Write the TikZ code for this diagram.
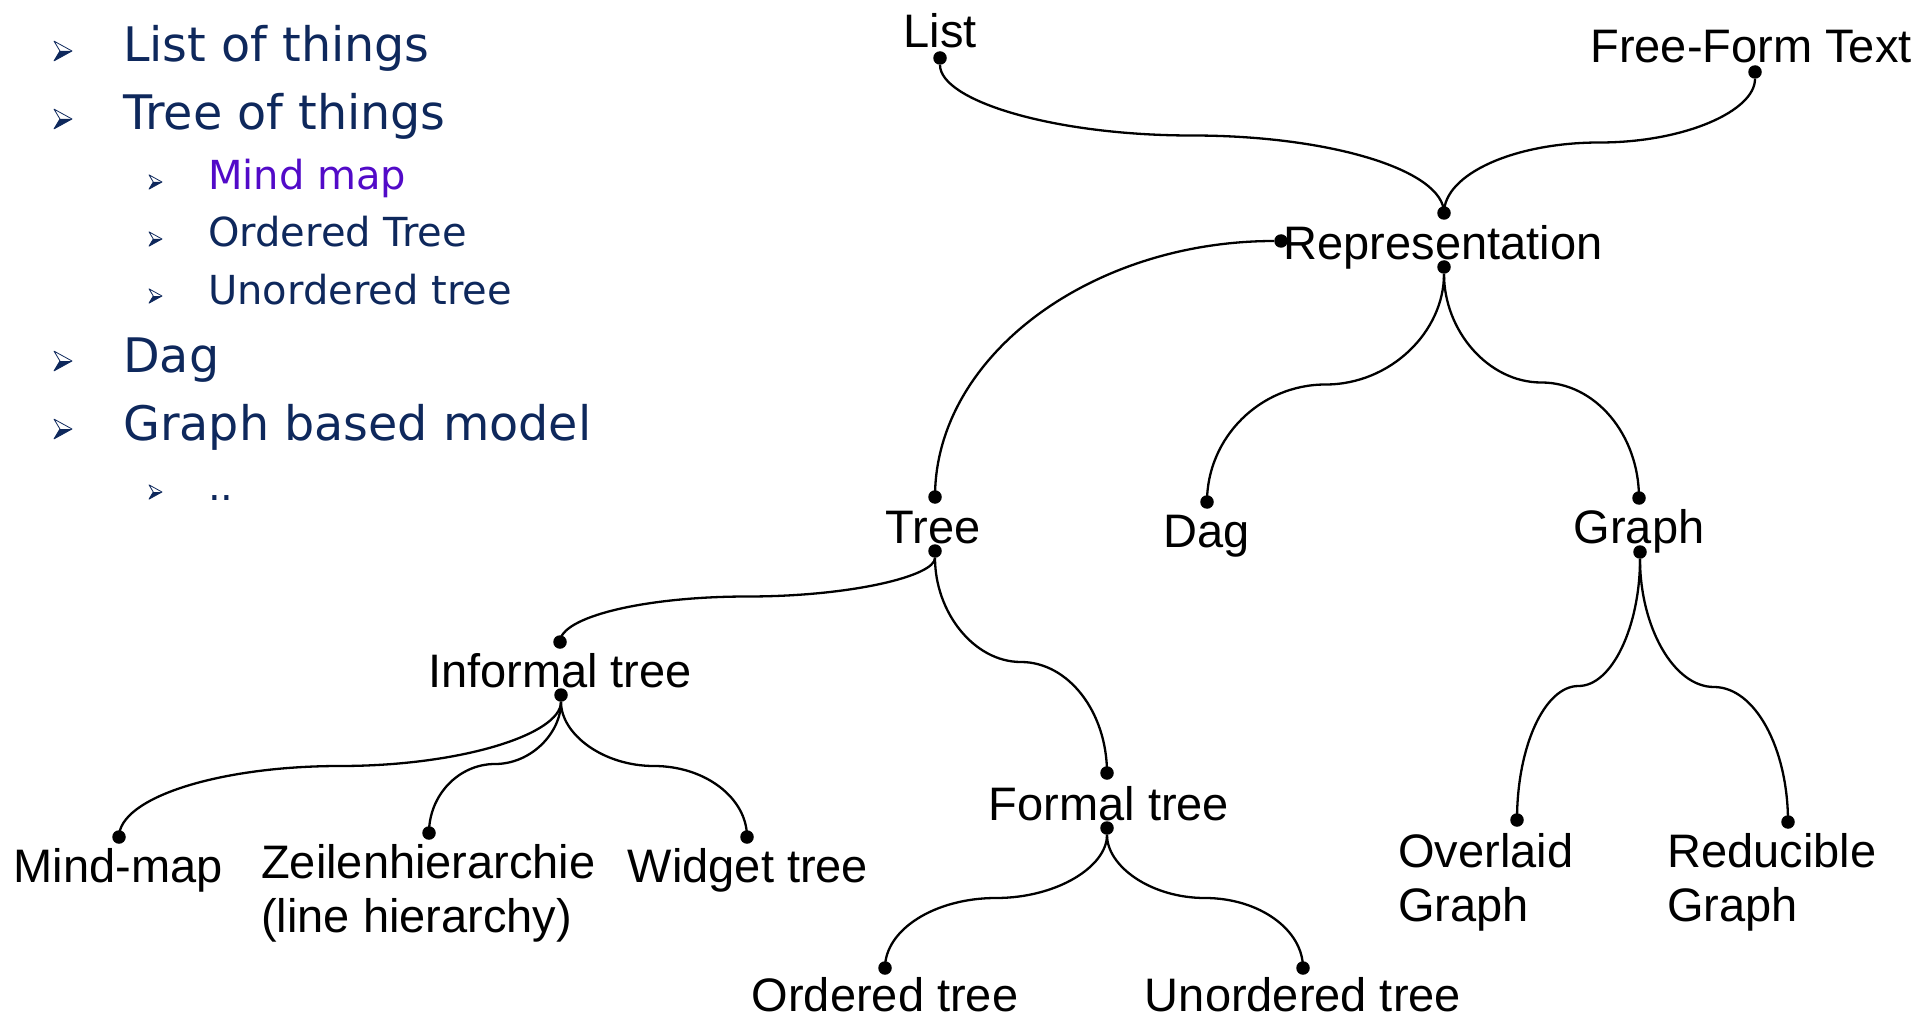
\documentclass[tikz,border=0pt]{standalone}
\usepackage{fontspec}
\setmainfont{Liberation Sans}
\newfontfamily\listfont{DejaVu Sans}
\usetikzlibrary{calc}

\definecolor{navy}{RGB}{14,40,92}
\definecolor{mmpurple}{RGB}{82,10,200}

\tikzset{
  % tree labels and their attachment dots
  lbl/.style={font=\fontsize{47}{54}\selectfont, inner sep=0pt, anchor=base},
  lbl2/.style={font=\fontsize{47}{54}\selectfont, inner sep=0pt, anchor=north west, align=left},
  dot/.style={circle, fill=black, inner sep=0pt, minimum size=13.5pt},
  link/.style={line width=2.3pt},
  % S-shaped branch: vertical at both ends, horizontal halfway
  sbend/.style={to path={
    let \p1=(\tikztostart), \p2=(\tikztotarget) in
    .. controls (\x1,{0.725*\y1+0.275*\y2}) and ({0.775*\x1+0.225*\x2},{0.5*\y1+0.5*\y2})
    .. ({0.5*\x1+0.5*\x2},{0.5*\y1+0.5*\y2})
    .. controls ({0.225*\x1+0.775*\x2},{0.5*\y1+0.5*\y2}) and (\x2,{0.275*\y1+0.725*\y2})
    .. (\p2)}},
  % quarter bend: horizontal at the start, vertical at the end
  qbend/.style={to path={
    let \p1=(\tikztostart), \p2=(\tikztotarget) in
    .. controls ({0.45*\x1+0.55*\x2},\y1) and (\x2,{0.55*\y1+0.45*\y2}) .. (\p2)}},
  % outline list
  itemA/.style={font=\listfont\fontsize{47.6}{54}\selectfont, text=navy, inner sep=0pt, anchor=base west},
  itemB/.style={font=\listfont\fontsize{40}{46}\selectfont, text=navy, inner sep=0pt, anchor=base west},
  bul/.pic={
    \fill[navy] (0.33,0) -- (1,0) -- (0,0.55) -- cycle;
    \draw[navy, line width=0.8pt, line join=round] (0.33,0) -- (0,-0.55) -- (1,0) -- (0,0.55) -- cycle;
  }
}

\begin{document}
\begin{tikzpicture}[x=1pt,y=-1pt]
\useasboundingbox (0,0) rectangle (1923,1019);

% ---- outline list ----
\pic[scale=18] at (54,51) {bul};
\node[itemA] (iList) at (123,62) {List of things};
\pic[scale=18] at (54,119) {bul};
\node[itemA] (iTree) at (123,130) {Tree of things};
\pic[scale=13] at (149,182) {bul};
\node[itemB, text=mmpurple] (iMind) at (208,190) {Mind map};
\pic[scale=13] at (149,239) {bul};
\node[itemB] (iOrd) at (208,247) {Ordered Tree};
\pic[scale=13] at (149,296) {bul};
\node[itemB] (iUnord) at (208,304) {Unordered tree};
\pic[scale=18] at (54,361) {bul};
\node[itemA] (iDag) at (123,372) {Dag};
\pic[scale=18] at (54,429) {bul};
\node[itemA] (iGraph) at (123,440) {Graph based model};
\pic[scale=13] at (149,492) {bul};
\node[itemB] (iMore) at (208,500) {..};

% ---- labels ----
\node[lbl] (tList) at (940,48) {List};
\node[lbl] (tFree) at (1751,63) {Free-Form Text};
\node[lbl] (tRep) at (1443,260) {Representation};
\node[lbl] (tTree) at (933,543) {Tree};
\node[lbl] (tDag) at (1207,547) {Dag};
\node[lbl] (tGraph) at (1639,543) {Graph};
\node[lbl] (tInf) at (560,687) {Informal tree};
\node[lbl] (tMind) at (118,882) {Mind-map};
\node[lbl2] (tZeil) at (261,844) {Zeilenhierarchie\\(line hierarchy)};
\node[lbl] (tWidget) at (748,882) {Widget tree};
\node[lbl] (tForm) at (1109,820) {Formal tree};
\node[lbl] (tOrd) at (885,1011) {Ordered tree};
\node[lbl] (tUnord) at (1303,1011) {Unordered tree};
\node[lbl2] (tOver) at (1398,833) {Overlaid\\Graph};
\node[lbl2] (tRed) at (1667,833) {Reducible\\Graph};

% ---- attachment dots ----
\node[dot] (dList) at (940,58) {};
\node[dot] (dFree) at (1755,72) {};
\node[dot] (dRepN) at (1444,213) {};
\node[dot] (dRepW) at (1281,241) {};
\node[dot] (dRepS) at (1444,267) {};
\node[dot] (dTreeN) at (935,497) {};
\node[dot] (dTreeS) at (935,551) {};
\node[dot] (dDag) at (1207,502) {};
\node[dot] (dGraphN) at (1639,498) {};
\node[dot] (dGraphS) at (1640,552) {};
\node[dot] (dInfN) at (560,642) {};
\node[dot] (dInfS) at (561,695) {};
\node[dot] (dMind) at (119,837) {};
\node[dot] (dZeil) at (429,833) {};
\node[dot] (dWidget) at (747,837) {};
\node[dot] (dFormN) at (1107,773) {};
\node[dot] (dFormS) at (1107,828) {};
\node[dot] (dOrd) at (885,968) {};
\node[dot] (dUnord) at (1303,968) {};
\node[dot] (dOver) at (1517,820) {};
\node[dot] (dRed) at (1788,822) {};

% ---- branches ----
\draw[link] (dList) to[sbend] (dRepN);
\draw[link] (dFree) to[sbend] (dRepN);
\draw[link] (dRepW) to[qbend] (dTreeN);
\draw[link] (dRepS) to[sbend] (dDag);
\draw[link] (dRepS) to[sbend] (dGraphN);
\draw[link] (dTreeS) to[sbend] (dInfN);
\draw[link] (dTreeS) to[sbend] (dFormN);
\draw[link] (dGraphS) to[sbend] (dOver);
\draw[link] (dGraphS) to[sbend] (dRed);
\draw[link] (dInfS) to[sbend] (dMind);
\draw[link] (dInfS) to[sbend] (dZeil);
\draw[link] (dInfS) to[sbend] (dWidget);
\draw[link] (dFormS) to[sbend] (dOrd);
\draw[link] (dFormS) to[sbend] (dUnord);
\end{tikzpicture}
\end{document}
